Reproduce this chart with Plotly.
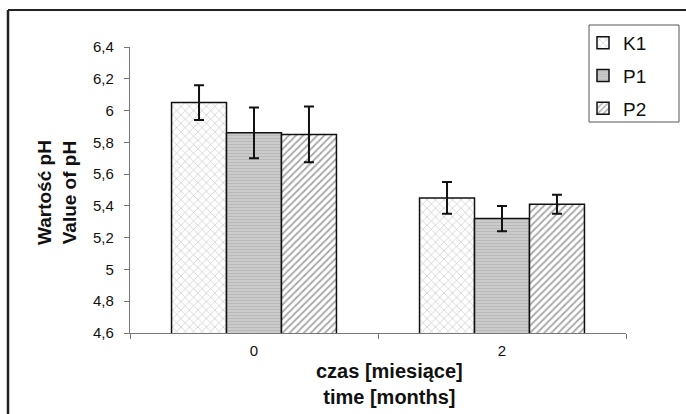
import plotly.graph_objects as go

categories = ["0", "2"]
series_names = ["K1", "P1", "P2"]
k1_values = [6.05, 5.45]
k1_errors = [0.11, 0.10]
p1_values = [5.86, 5.32]
p1_errors = [0.16, 0.08]
p2_values = [5.85, 5.41]
p2_errors = [0.175, 0.06]
y_ticks = [4.6, 4.8, 5.0, 5.2, 5.4, 5.6, 5.8, 6.0, 6.2, 6.4]

W, H = 686, 414
L, R, T, B = 130, 60, 47, 81
pw, ph = W - L - R, H - T - B


def px(x):
    return (x - L) / pw


def py(y):
    return (H - B - y) / ph


patterns = [
    dict(shape="x", fgcolor="#777777", bgcolor="#ffffff", size=6, solidity=0.18),
    dict(shape="-", fgcolor="#a8a8a8", bgcolor="#cbcbcb", size=3, solidity=0.35),
    dict(shape="/", fgcolor="#505050", bgcolor="#ffffff", size=5, solidity=0.35),
]
vals = [k1_values, p1_values, p2_values]
errs = [k1_errors, p1_errors, p2_errors]

fig = go.Figure()
for i, name in enumerate(series_names):
    fig.add_trace(go.Bar(
        x=categories, y=vals[i], name=name, legendgroup=name,
        marker=dict(pattern=patterns[i], line=dict(color="#111111", width=1.5),
                    color=patterns[i]["bgcolor"]),
        error_y=dict(type="data", array=errs[i], visible=True,
                     color="#111111", thickness=2, width=5),
    ))

font_family = "Liberation Sans, Arial, sans-serif"
fig.update_layout(
    width=W, height=H,
    margin=dict(l=L, r=R, t=T, b=B),
    paper_bgcolor="white", plot_bgcolor="white",
    separators=", ",
    barmode="group", bargap=0.335, bargroupgap=0,
    font=dict(family=font_family, size=15, color="#111111"),
    showlegend=True,
    legend=dict(x=px(583), y=py(24), xanchor="left", yanchor="top",
                bgcolor="rgba(0,0,0,0)", borderwidth=0,
                font=dict(size=19, color="#111111"),
                traceorder="grouped", tracegroupgap=5,
                itemwidth=30),
    xaxis=dict(type="category", showline=True, linecolor="#777777", linewidth=1.2,
               ticks="outside", tickson="boundaries", ticklen=5, tickcolor="#777777",
               showgrid=False, zeroline=False, tickfont=dict(size=15),
               ticklabelstandoff=4),
    yaxis=dict(range=[4.6, 6.4], tickvals=y_ticks, showline=True, linecolor="#777777",
               linewidth=1.2, ticks="outside", ticklen=5, tickcolor="#777777",
               showgrid=False, zeroline=False, tickfont=dict(size=15),
               ticklabelstandoff=7),
    shapes=[
        dict(type="rect", xref="paper", yref="paper", x0=px(589), x1=px(679),
             y0=py(25), y1=py(122), line=dict(color="#555555", width=1)),
        dict(type="line", xref="paper", yref="paper", x0=px(8), x1=px(700),
             y0=py(10), y1=py(10), line=dict(color="#222222", width=2)),
        dict(type="line", xref="paper", yref="paper", x0=px(8), x1=px(8),
             y0=py(10), y1=py(430), line=dict(color="#222222", width=2.5)),
    ],
    annotations=[
        dict(text="<b>Wartość pH</b><br><b>Value of pH</b>", xref="paper", yref="paper",
             x=px(57), y=py(193), textangle=-90, showarrow=False,
             font=dict(size=19, family=font_family, color="#111111"),
             xanchor="center", yanchor="middle"),
        dict(text="<b>czas [miesiące]</b><br><b>time [months]</b>", xref="paper", yref="paper",
             x=px(389), y=py(384), showarrow=False,
             font=dict(size=20, family=font_family, color="#111111"),
             xanchor="center", yanchor="middle"),
    ],
)

fig.write_html("out.html")
